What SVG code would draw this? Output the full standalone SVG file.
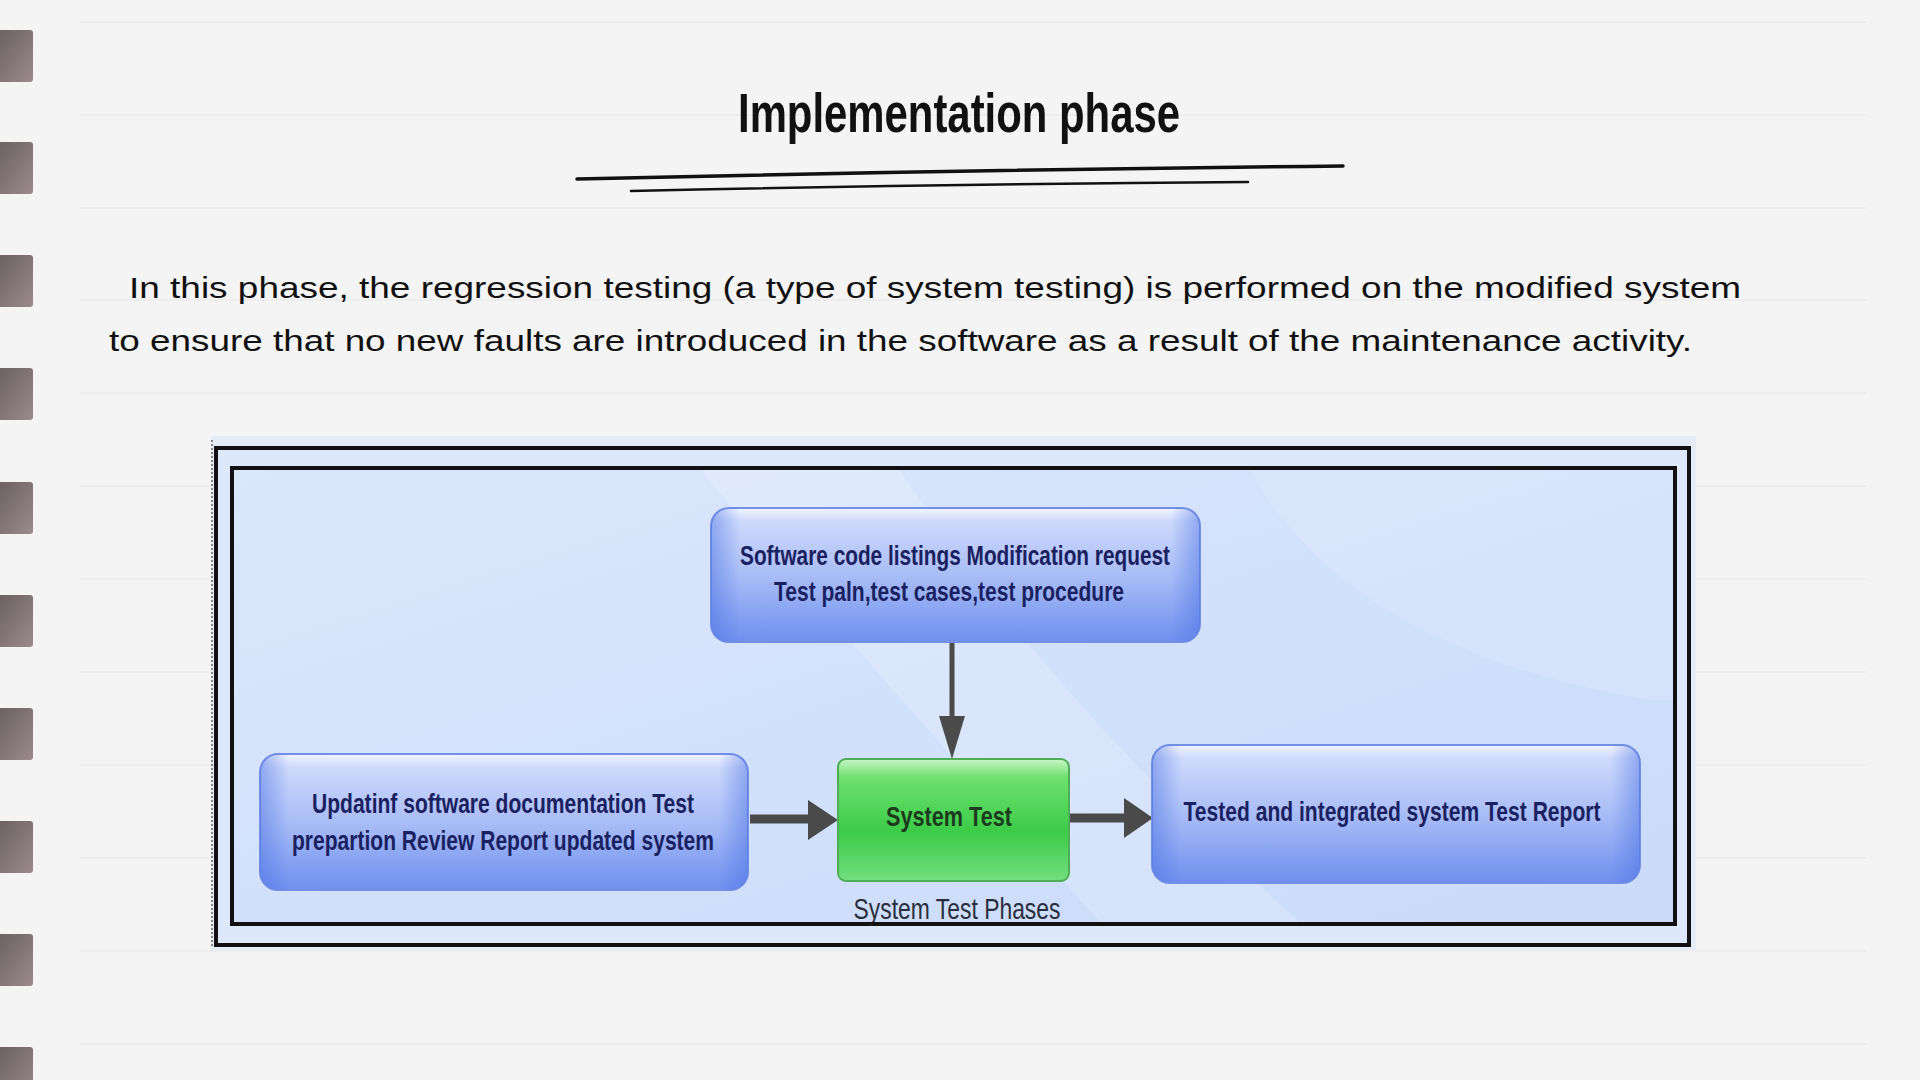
<svg xmlns="http://www.w3.org/2000/svg" width="1920" height="1080" viewBox="0 0 1920 1080">
<defs>
<style>
.rule{stroke:#ebebeb;stroke-width:1.5}
.hole{fill:url(#holeG)}
.ink{stroke:#111;fill:none;stroke-linecap:round}
.hand{font-family:"Liberation Sans","DejaVu Sans",sans-serif;fill:#111}
.lbl{font-family:"Liberation Sans","DejaVu Sans",sans-serif;font-size:28px;font-weight:bold;fill:#1a2160;text-anchor:middle}
.bnode{fill:url(#blueG);stroke:#7390e6;stroke-width:2}
.gnode{fill:url(#greenG);stroke:#4fae55;stroke-width:2}
.conn{stroke:#4a4a4a;fill:none}
.head{fill:#4a4a4a}
</style>
<linearGradient id="holeG" x1="0" y1="0" x2="1" y2="1">
<stop offset="0" stop-color="#6b5f60"/>
<stop offset="1" stop-color="#9a8a8b"/>
</linearGradient>
<linearGradient id="blueG" x1="0" y1="0" x2="0" y2="1">
<stop offset="0" stop-color="#f2f5ff"/>
<stop offset="0.1" stop-color="#cdd9fb"/>
<stop offset="0.5" stop-color="#a9bdf6"/>
<stop offset="1" stop-color="#6f8fee"/>
</linearGradient>
<linearGradient id="edgeG" x1="0" y1="0" x2="1" y2="0">
<stop offset="0" stop-color="#4e74e4" stop-opacity="0.5"/>
<stop offset="0.06" stop-color="#4e74e4" stop-opacity="0"/>
<stop offset="0.94" stop-color="#4e74e4" stop-opacity="0"/>
<stop offset="1" stop-color="#4e74e4" stop-opacity="0.5"/>
</linearGradient>
<linearGradient id="greenG" x1="0" y1="0" x2="0" y2="1">
<stop offset="0" stop-color="#c8f5c8"/>
<stop offset="0.15" stop-color="#6ee06e"/>
<stop offset="0.6" stop-color="#3ccb48"/>
<stop offset="1" stop-color="#74de80"/>
</linearGradient>
<linearGradient id="panelG" x1="0" y1="0" x2="1" y2="1">
<stop offset="0" stop-color="#dbe7fb"/>
<stop offset="0.5" stop-color="#d2e1fb"/>
<stop offset="1" stop-color="#c9dbf9"/>
</linearGradient>
</defs>

<rect width="1920" height="1080" fill="#f4f4f4"/>
<g id="rules">
<line class="rule" x1="80" y1="22" x2="1866" y2="22"/>
<line class="rule" x1="80" y1="115" x2="1866" y2="115"/>
<line class="rule" x1="80" y1="208" x2="1866" y2="208"/>
<line class="rule" x1="80" y1="300" x2="1866" y2="300"/>
<line class="rule" x1="80" y1="393" x2="1866" y2="393"/>
<line class="rule" x1="80" y1="486" x2="1866" y2="486"/>
<line class="rule" x1="80" y1="579" x2="1866" y2="579"/>
<line class="rule" x1="80" y1="672" x2="1866" y2="672"/>
<line class="rule" x1="80" y1="765" x2="1866" y2="765"/>
<line class="rule" x1="80" y1="858" x2="1866" y2="858"/>
<line class="rule" x1="80" y1="951" x2="1866" y2="951"/>
<line class="rule" x1="80" y1="1044" x2="1866" y2="1044"/>
</g>
<g id="holes">
<rect class="hole" x="-4" y="30" width="37" height="52" rx="3"/>
<rect class="hole" x="-4" y="142" width="37" height="52" rx="3"/>
<rect class="hole" x="-4" y="255" width="37" height="52" rx="3"/>
<rect class="hole" x="-4" y="368" width="37" height="52" rx="3"/>
<rect class="hole" x="-4" y="482" width="37" height="52" rx="3"/>
<rect class="hole" x="-4" y="595" width="37" height="52" rx="3"/>
<rect class="hole" x="-4" y="708" width="37" height="52" rx="3"/>
<rect class="hole" x="-4" y="821" width="37" height="52" rx="3"/>
<rect class="hole" x="-4" y="934" width="37" height="52" rx="3"/>
<rect class="hole" x="-4" y="1047" width="37" height="52" rx="3"/>
</g>

<g id="title">
<text class="hand" x="738" y="132" font-size="56" font-weight="bold" textLength="442" lengthAdjust="spacingAndGlyphs">Implementation phase</text>
<path class="ink" stroke-width="3.5" d="M577 179 Q960 170 1343 166"/>
<path class="ink" stroke-width="2.5" d="M631 191 Q940 184 1248 182"/>
</g>

<g id="paragraph">
<text class="hand" x="129" y="298" font-size="30" textLength="1612" lengthAdjust="spacingAndGlyphs">In this phase, the regression testing (a type of system testing) is performed on the modified system</text>
<text class="hand" x="109" y="351" font-size="30" textLength="1583" lengthAdjust="spacingAndGlyphs">to ensure that no new faults are introduced in the software as a result of the maintenance activity.</text>
</g>

<g id="figure">
<rect x="211" y="436" width="1485" height="514" fill="#e4ecf8"/>
<rect x="216" y="448" width="1473" height="497" fill="#dde8fa" stroke="#111" stroke-width="4"/>
<rect x="232" y="468" width="1443" height="456" fill="url(#panelG)" stroke="#111" stroke-width="4"/>
<path d="M700 470 Q900 700 1100 922 L1300 922 Q1050 700 900 470 Z" fill="#ffffff" opacity="0.18"/>
<path d="M1250 470 Q1350 650 1650 700 L1673 700 L1673 470 Z" fill="#ffffff" opacity="0.12"/>
<line x1="212" y1="440" x2="212" y2="948" stroke="#888" stroke-width="2" stroke-dasharray="2 2"/>
</g>

<g id="connectors">
<line class="conn" x1="952" y1="642" x2="952" y2="718" stroke-width="5"/>
<polygon class="head" points="939,716 965,716 952,759"/>
<line class="conn" x1="750" y1="819" x2="810" y2="819" stroke-width="9"/>
<polygon class="head" points="808,800 808,840 838,820"/>
<line class="conn" x1="1069" y1="818" x2="1126" y2="818" stroke-width="9"/>
<polygon class="head" points="1124,798 1124,838 1153,818"/>
</g>

<g id="node-top">
<rect class="bnode" x="711" y="508" width="489" height="134" rx="18"/>
<rect x="711" y="508" width="489" height="134" rx="18" fill="url(#edgeG)"/>
<text class="lbl" x="955" y="565" textLength="430" lengthAdjust="spacingAndGlyphs">Software code listings Modification request</text>
<text class="lbl" x="949" y="601" textLength="350" lengthAdjust="spacingAndGlyphs">Test paln,test cases,test procedure</text>
</g>

<g id="node-left">
<rect class="bnode" x="260" y="754" width="488" height="136" rx="18"/>
<rect x="260" y="754" width="488" height="136" rx="18" fill="url(#edgeG)"/>
<text class="lbl" x="503" y="813" font-size="27" textLength="382" lengthAdjust="spacingAndGlyphs">Updatinf software documentation Test</text>
<text class="lbl" x="503" y="850" font-size="27" textLength="422" lengthAdjust="spacingAndGlyphs">prepartion Review Report updated system</text>
</g>

<g id="node-center">
<rect class="gnode" x="838" y="759" width="231" height="122" rx="8"/>
<text class="lbl" x="949" y="826" style="fill:#1b3a1e" textLength="126" lengthAdjust="spacingAndGlyphs">System Test</text>
</g>

<g id="node-right">
<rect class="bnode" x="1152" y="745" width="488" height="138" rx="18"/>
<rect x="1152" y="745" width="488" height="138" rx="18" fill="url(#edgeG)"/>
<text class="lbl" x="1392" y="821" textLength="417" lengthAdjust="spacingAndGlyphs">Tested and integrated system Test Report</text>
</g>

<g id="caption">
<text x="957" y="919" font-family="Liberation Sans, DejaVu Sans, sans-serif" font-size="29" fill="#2a2e3c" text-anchor="middle" textLength="207" lengthAdjust="spacingAndGlyphs">System Test Phases</text>
<rect x="234" y="922" width="1439" height="2" fill="#111"/>
</g>
</svg>
